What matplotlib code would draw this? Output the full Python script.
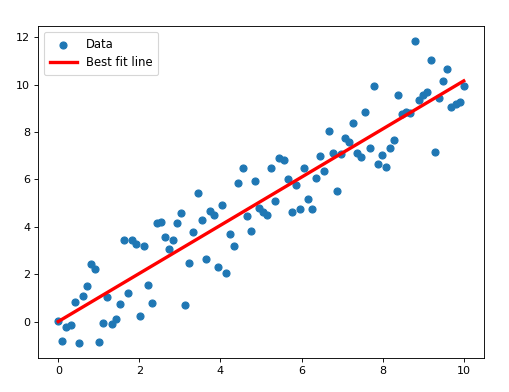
import numpy as np
from matplotlib import pyplot as plt

x = np.linspace(0, 10, 100)
y = [
    0.03, -0.83, -0.21, -0.14, 0.83, -0.90, 1.07, 1.52, 2.41, 2.21,
    -0.86, -0.08, 1.05, -0.10, 0.11, 0.76, 3.45, 1.22, 3.45, 3.28,
    0.25, 3.20, 1.56, 0.80, 4.18, 4.22, 3.55, 3.05, 3.46, 4.18,
    4.60, 0.69, 2.49, 3.80, 5.44, 4.29, 2.63, 4.68, 4.51, 2.32,
    4.92, 2.07, 3.69, 3.19, 5.84, 6.50, 4.45, 3.84, 5.92, 4.81,
    4.64, 4.50, 6.50, 5.09, 6.92, 6.81, 6.02, 4.63, 5.77, 4.77,
    6.50, 5.16, 4.76, 6.08, 6.99, 6.35, 8.06, 7.10, 5.50, 7.06,
    7.74, 7.60, 8.37, 7.12, 6.96, 8.83, 7.34, 9.95, 6.65, 7.03,
    6.54, 7.33, 7.65, 9.58, 8.75, 8.85, 8.81, 11.84, 9.35, 9.58,
    9.69, 11.05, 7.15, 9.45, 10.16, 10.66, 9.05, 9.19, 9.27, 9.95,
]
y = np.array(y)

slope, intercept = np.polyfit(x, y, 1)
fit = slope * x + intercept

fig = plt.figure(figsize=(509 / 80, 392 / 80), dpi=80)
ax = fig.add_axes([38 / 509, 1 - 358 / 392, 446 / 509, 332 / 392])
ax.scatter(x, y, s=40, label="Data")
ax.plot(x, fit, color="red", linewidth=3, label="Best fit line")
ax.legend(loc="upper left", fontsize=10.5, labelspacing=0.5,
          borderpad=0.5, handlelength=2.3)
fig.savefig("out.png", dpi=80)
